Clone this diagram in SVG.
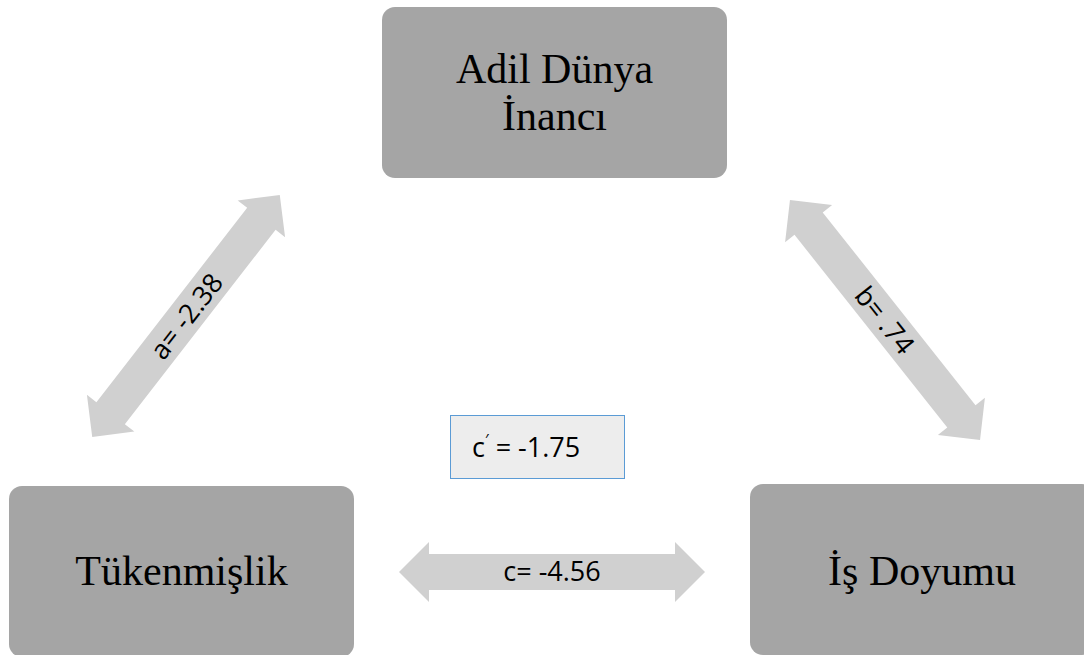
<svg xmlns="http://www.w3.org/2000/svg" width="1084" height="655" viewBox="0 0 1084 655">
<defs>
<style>
.node rect{fill:#a5a5a5;}
.node text{font-family:"Liberation Serif","Times New Roman",serif;font-size:42px;fill:#000;text-anchor:middle;}
.arrow{fill:#d0d0d0;}
.lbl{font-family:"Open Sans","Liberation Sans",sans-serif;font-size:27px;fill:#000;text-anchor:middle;}
</style>
<path id="dbl" d="M -153,0 L -123,-30 L -123,-18 L 123,-18 L 123,-30 L 153,0 L 123,30 L 123,18 L -123,18 L -123,30 Z"/>
</defs>
<rect width="1084" height="655" fill="#ffffff"/>
<g id="connectors">
<use href="#dbl" class="arrow" transform="translate(186,316) rotate(-52.2)"/>
<use href="#dbl" class="arrow" transform="translate(885,320) rotate(51.6)"/>
<use href="#dbl" class="arrow" transform="translate(552,572)"/>
<text class="lbl" transform="translate(186,316) rotate(-52.2)" y="10">a= -2.38</text>
<text class="lbl" transform="translate(885,320) rotate(51.6)" y="10">b= .74</text>
<text class="lbl" x="552" y="581">c= -4.56</text>
</g>
<g id="node-adil" class="node">
<rect x="382" y="7" width="345" height="171" rx="13"/>
<text x="554.5" y="83">Adil Dünya</text>
<text x="554.5" y="130">İnancı</text>
</g>
<g id="node-tukenmislik" class="node">
<rect x="9" y="486" width="345" height="171" rx="13"/>
<text x="181.5" y="585">Tükenmişlik</text>
</g>
<g id="node-isdoyumu" class="node">
<rect x="750" y="484" width="345" height="171" rx="13"/>
<text x="922" y="585">İş Doyumu</text>
</g>
<g id="node-cprime">
<rect x="450.5" y="415.5" width="174" height="63" fill="#ededed" stroke="#5b9bd5" stroke-width="1"/>
<text class="lbl" x="472" y="457" style="text-anchor:start">c<tspan font-size="16" dy="-11">′</tspan><tspan dy="11"> = -1.75</tspan></text>
</g>
</svg>
